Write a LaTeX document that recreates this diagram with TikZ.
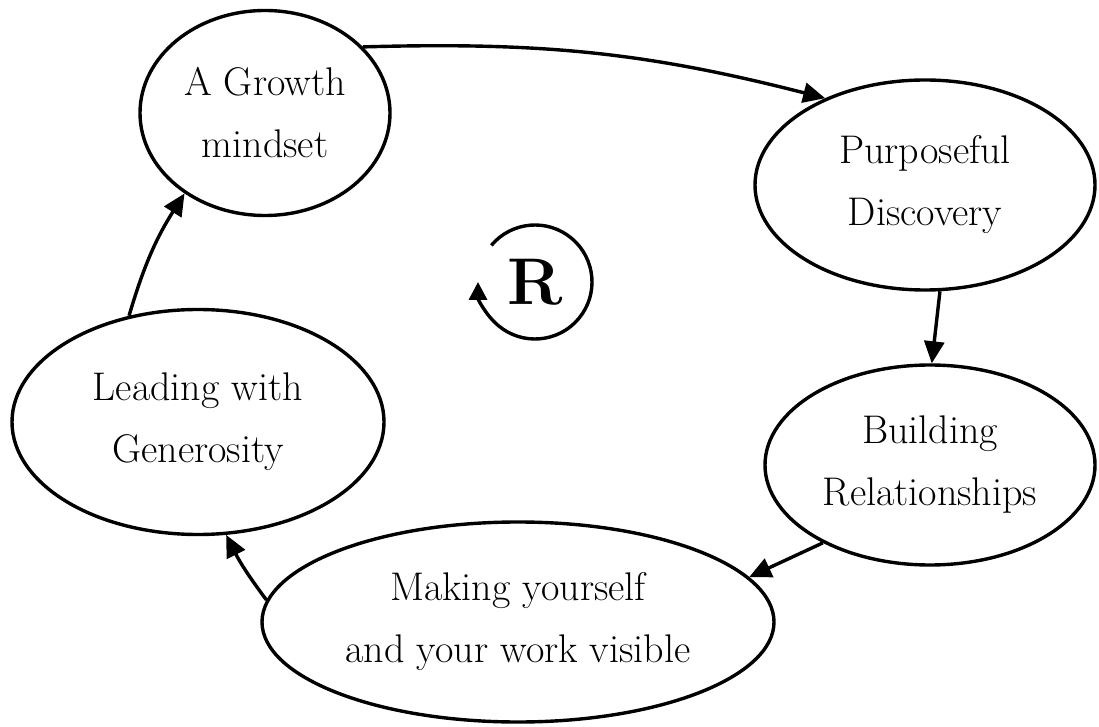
\documentclass[tikz,border=0pt]{standalone}
\usetikzlibrary{shapes.geometric,arrows.meta}
\begin{document}
\begin{tikzpicture}[x=1pt,y=1pt,
  bubble/.style={draw,ellipse,line width=3.4pt,inner sep=0pt,align=center,
    font=\fontsize{40}{62}\selectfont},
  link/.style={line width=3.4pt,-{Triangle[length=22pt,width=20pt]}}]
\useasboundingbox (0,0) rectangle (1099,726);
\node[bubble,minimum width=250pt,minimum height=205pt] (g) at (265,613) {A Growth\\mindset};
\node[bubble,minimum width=340pt,minimum height=210pt] (p) at (925,541) {Purposeful\\Discovery};
\node[bubble,minimum width=330pt,minimum height=200pt] (b) at (930,261) {Building\\Relationships};
\node[bubble,minimum width=512pt,minimum height=200pt] (m) at (518,104) {Making yourself\\and your work visible};
\node[bubble,minimum width=372pt,minimum height=225pt] (l) at (198,304) {Leading with\\Generosity};
\node[font=\fontsize{66}{66}\selectfont\bfseries] (r) at (535,444) {R};
\draw[link] (g.34) to[bend left=8] (p.139);
\draw[link] (p.278) -- (b.89);
\draw[link] (b.216) -- (m.11);
\draw[link] (m.175) to[bend left=5] (l.284);
\draw[link] (l.123) to[bend left=8] (g.225);
\draw[line width=3.4pt,-{Triangle[length=18pt,width=18pt]}] (r.center) ++(140:57) arc[start angle=140,end angle=-180,radius=57];
\end{tikzpicture}
\end{document}
